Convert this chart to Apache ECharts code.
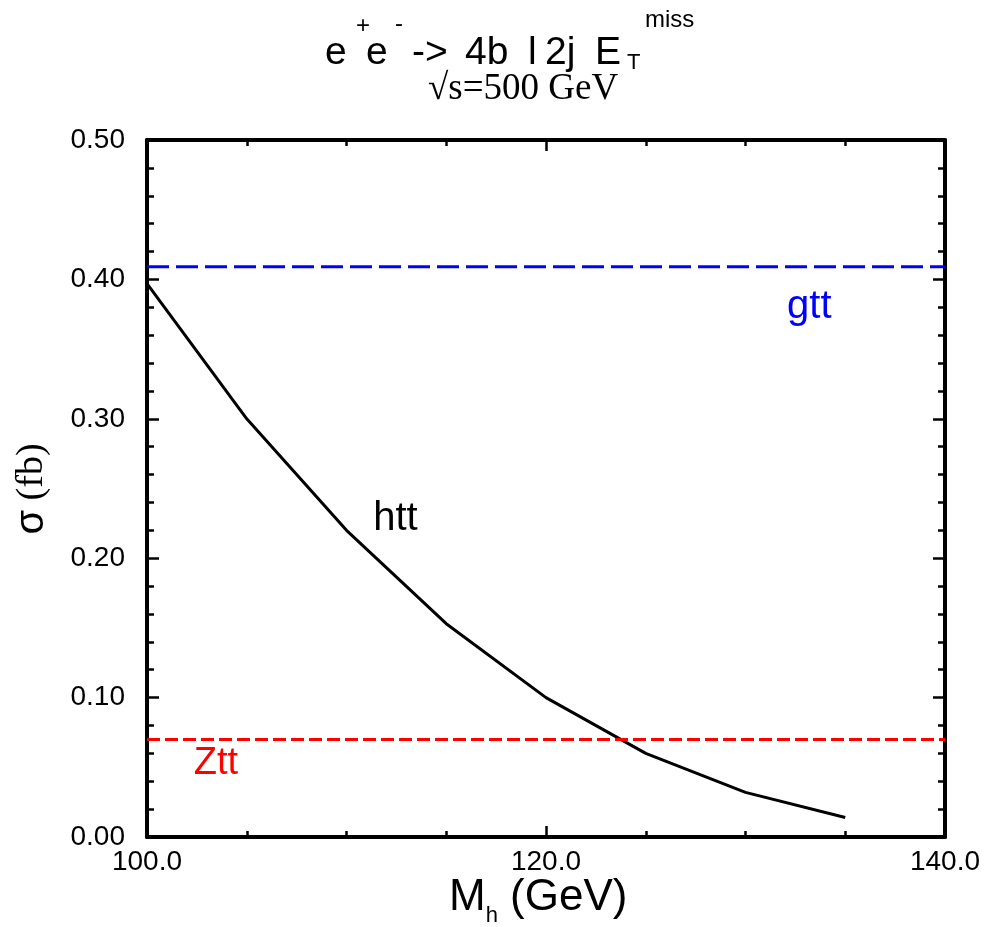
<!DOCTYPE html>
<html>
<head>
<meta charset="utf-8">
<script src="https://cdn.jsdelivr.net/npm/echarts@6/dist/echarts.min.js"></script>
<style>
html,body{margin:0;padding:0;background:#fff;}
#c{width:984px;height:927px;}
</style>
</head>
<body>
<div id="c"></div>
<script>
// ---- data ----
const xRange = [100, 140];
const yRange = [0, 0.5];
const higgsMass = [100, 105, 110, 115, 120, 125, 130, 135];
const httSigma = [0.397, 0.300, 0.220, 0.153, 0.100, 0.060, 0.032, 0.014];
const gttSigma = 0.409;
const zttSigma = 0.070;
const labelNames = ['htt', 'gtt', 'Ztt'];
const labelX = [112.45, 133.2, 103.45];
const labelY = [0.228, 0.380, 0.053];
const labelColors = ['#000000', '#0000ff', '#ff0000'];
const labelSizes = [40, 40, 38];

const FONT = '"Liberation Sans", Arial, sans-serif';
const SERIF = '"Liberation Serif", "Times New Roman", serif';

// title pieces: text, left x, baseline y, font size
const titlePieces = [
  ['e', 325, 65, 39], ['+', 356, 34, 24], ['e', 366, 65, 39], ['-', 395, 32, 24],
  ['->', 412, 65, 39], ['4b', 465, 65, 39], ['l', 528, 65, 39], ['2j', 545, 65, 39],
  ['E', 595, 65, 39], ['T', 627, 70, 22], ['miss', 645, 28, 24]
];

const chart = echarts.init(document.getElementById('c'), null, {renderer: 'canvas'});

function axisX(pos, showLabel) {
  return {
    type: 'value', position: pos, min: xRange[0], max: xRange[1], interval: 20,
    axisLine: {show: true, onZero: false, lineStyle: {color: '#000', width: 4}},
    axisTick: {show: true, inside: true, length: 11, lineStyle: {color: '#000', width: 2.5}},
    minorTick: {show: true, splitNumber: 4, length: 6, lineStyle: {color: '#000', width: 2.5}},
    axisLabel: {show: showLabel, fontSize: 28, color: '#000', fontFamily: FONT, margin: 11,
      formatter: v => v.toFixed(1)},
    splitLine: {show: false}, minorSplitLine: {show: false}
  };
}
function axisY(pos, showLabel) {
  return {
    type: 'value', position: pos, min: yRange[0], max: yRange[1], interval: 0.1,
    axisLine: {show: true, onZero: false, lineStyle: {color: '#000', width: 4}},
    axisTick: {show: true, inside: true, length: 12, lineStyle: {color: '#000', width: 2.5}},
    minorTick: {show: true, splitNumber: 5, length: 7, lineStyle: {color: '#000', width: 2.5}},
    axisLabel: {show: showLabel, fontSize: 28, color: '#000', fontFamily: FONT, margin: 22,
      formatter: v => v.toFixed(2)},
    splitLine: {show: false}, minorSplitLine: {show: false}
  };
}

const titleGraphics = titlePieces.map(p => ({
  type: 'text', x: p[1], y: p[2] - 0.31 * p[3], silent: true,
  style: {text: p[0], fontSize: p[3], fontFamily: FONT, fill: '#000', align: 'left', verticalAlign: 'middle'}
}));

const option = {
  animation: false,
  backgroundColor: '#fff',
  grid: {left: 147, right: 39, top: 140, bottom: 90, containLabel: false, outerBoundsMode: 'none'},
  xAxis: [axisX('bottom', true), axisX('top', false)],
  yAxis: [axisY('left', true), axisY('right', false)],
  series: [
    {
      type: 'line', xAxisIndex: 0, yAxisIndex: 0, symbol: 'none',
      data: higgsMass.map((m, i) => [m, httSigma[i]]),
      lineStyle: {color: '#000', width: 3}
    },
    {
      type: 'line', xAxisIndex: 0, yAxisIndex: 0, symbol: 'none',
      data: xRange.map(x => [x, gttSigma]),
      lineStyle: {color: '#0000ff', width: 3, type: [22, 7], cap: 'butt'}
    },
    {
      type: 'line', xAxisIndex: 0, yAxisIndex: 0, symbol: 'none',
      data: xRange.map(x => [x, zttSigma]),
      lineStyle: {color: '#ff0000', width: 3, type: [13, 5], cap: 'butt'}
    },
    {
      type: 'scatter', xAxisIndex: 0, yAxisIndex: 0, symbolSize: 0, silent: true,
      itemStyle: {opacity: 1},
      data: labelNames.map((n, i) => ({
        value: [labelX[i], labelY[i]], name: n,
        itemStyle: {opacity: 1},
        label: {show: true, position: 'inside', formatter: n, color: labelColors[i], opacity: 1,
          fontSize: labelSizes[i], fontFamily: FONT}
      }))
    }
  ],
  graphic: titleGraphics.concat([
    {
      type: 'text', x: 428, y: 100 - 0.3 * 37, silent: true,
      style: {text: '\u221As=500 GeV', fontSize: 37, fontFamily: SERIF, fill: '#000', align: 'left', verticalAlign: 'middle'}
    },
    {
      type: 'text', left: 449, top: 876, silent: true,
      style: {
        text: '{m|M}{h|h}{m| (GeV)}',
        rich: {
          m: {fontSize: 44, fontFamily: FONT, fill: '#000', verticalAlign: 'bottom', padding: [0, 0, 7, 0]},
          h: {fontSize: 22, fontFamily: FONT, fill: '#000', verticalAlign: 'bottom'}
        }
      }
    },
    {
      type: 'text', x: 32, y: 489, rotation: Math.PI / 2, silent: true,
      style: {
        text: '{s|\u03C3}{b| (fb)}', align: 'center', verticalAlign: 'middle',
        rich: {
          s: {fontSize: 40, fontFamily: FONT, fill: '#000'},
          b: {fontSize: 38, fontFamily: SERIF, fill: '#000'}
        }
      }
    }
  ])
};
chart.setOption(option);
</script>
</body>
</html>
